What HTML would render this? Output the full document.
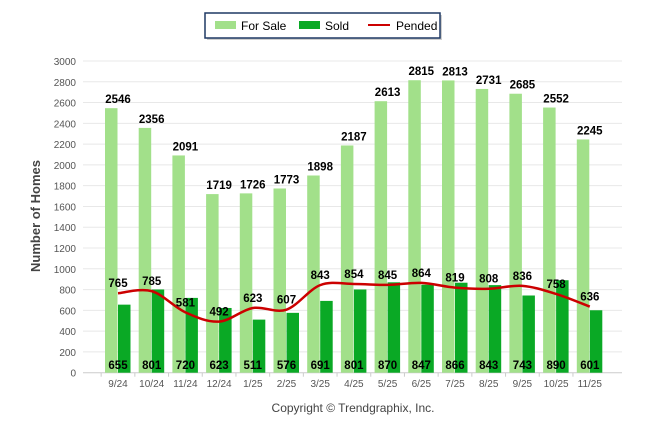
<!DOCTYPE html>
<html><head><meta charset="utf-8"><style>
body{margin:0;background:#fff;font-family:"Liberation Sans",sans-serif}
</style></head><body>
<svg width="646" height="434" xmlns="http://www.w3.org/2000/svg" font-family="Liberation Sans, sans-serif">
<g>
<rect x="207" y="15" width="235" height="25" fill="#888" opacity="0.4"/>
<rect x="205" y="13" width="235" height="25" fill="#fff" stroke="#1f3864" stroke-width="1.5"/>
<rect x="215" y="21" width="21" height="8" fill="#a2e08a"/>
<text x="241" y="30" font-size="12">For Sale</text>
<rect x="299" y="21" width="21" height="8" fill="#0aa925"/>
<text x="325" y="30" font-size="12">Sold</text>
<line x1="368" y1="25" x2="390" y2="25" stroke="#c00" stroke-width="2"/>
<text x="396" y="30" font-size="12">Pended</text>
</g>
<g id="grid"></g><g id="bars"></g><g id="line"></g><g id="labels"></g>
<text x="0" y="0" transform="translate(40,216) rotate(-90)" text-anchor="middle" font-size="13" font-weight="bold" fill="#444">Number of Homes</text>
<text x="353" y="412" text-anchor="middle" font-size="12" fill="#444">Copyright © Trendgraphix, Inc.</text>
</svg>
<script>
const categories=["9/24","10/24","11/24","12/24","1/25","2/25","3/25","4/25","5/25","6/25","7/25","8/25","9/25","10/25","11/25"];
const forSale=[2546,2356,2091,1719,1726,1773,1898,2187,2613,2815,2813,2731,2685,2552,2245];
const sold=[655,801,720,623,511,576,691,801,870,847,866,843,743,890,601];
const pended=[765,785,581,492,623,607,843,854,845,864,819,808,836,758,636];
const yTicks=[0,200,400,600,800,1000,1200,1400,1600,1800,2000,2200,2400,2600,2800,3000];
const NS="http://www.w3.org/2000/svg";
const x0=83,x1=622,step=33.7,yb=372.7,yt=61;
const y=v=>yb-(v/3000)*(yb-yt);
const cx=i=>118+i*step;
function mk(tag,attrs,parent,text){const e=document.createElementNS(NS,tag);for(const k in attrs)e.setAttribute(k,attrs[k]);if(text!==undefined)e.textContent=text;document.getElementById(parent).appendChild(e);return e;}
yTicks.forEach(t=>{
 const l=mk('line',{x1:x0,x2:x1,y1:y(t),y2:y(t),stroke:t===0?'#ccc':'#e8e8e8','stroke-width':1},'grid');
 
 
 const tx=mk('text',{x:76,y:y(t)+4,'text-anchor':'end','font-size':10,fill:'#555'},'grid',t);
 
 
});
categories.forEach((c,i)=>{
 const tk=mk('line',{x1:cx(i)-step/2,x2:cx(i)-step/2,y1:yb,y2:yb+4,stroke:'#ccc'},'grid');
 
 
 const t=mk('text',{x:cx(i),y:387,'text-anchor':'middle','font-size':10,fill:'#555'},'grid',c);
 
 
 const b1=mk('rect',{x:cx(i)-13,y:y(forSale[i]),width:12.5,height:yb-y(forSale[i]),fill:'#a2e08a'},'bars');
 
 
 const b2=mk('rect',{x:cx(i),y:y(sold[i]),width:12.5,height:yb-y(sold[i]),fill:'#0aa925'},'bars');
 
 
 const l1=mk('text',{x:cx(i),y:y(forSale[i])-5,'text-anchor':'middle','font-size':11.5,'font-weight':'bold'},'labels',forSale[i]);
 
 
 const l2=mk('text',{x:cx(i),y:369,'text-anchor':'middle','font-size':11.5,'font-weight':'bold'},'labels',sold[i]);
 
 
 const l3=mk('text',{x:cx(i),y:y(pended[i])-6,'text-anchor':'middle','font-size':11.5,'font-weight':'bold'},'labels',pended[i]);
 
 
});
let d='M'+cx(0)+','+y(pended[0]);
for(let i=0;i<pended.length-1;i++){
 const p0=[cx(Math.max(i-1,0)),y(pended[Math.max(i-1,0)])],p1=[cx(i),y(pended[i])],p2=[cx(i+1),y(pended[i+1])],p3=[cx(Math.min(i+2,pended.length-1)),y(pended[Math.min(i+2,pended.length-1)])];
 const c1=[p1[0]+(p2[0]-p0[0])/6,p1[1]+(p2[1]-p0[1])/6],c2=[p2[0]-(p3[0]-p1[0])/6,p2[1]-(p3[1]-p1[1])/6];
 d+=' C'+c1+' '+c2+' '+p2;
}
const pl=mk('path',{d:d,fill:'none',stroke:'#c00','stroke-width':2.5},'line');


</script>
</body></html>
